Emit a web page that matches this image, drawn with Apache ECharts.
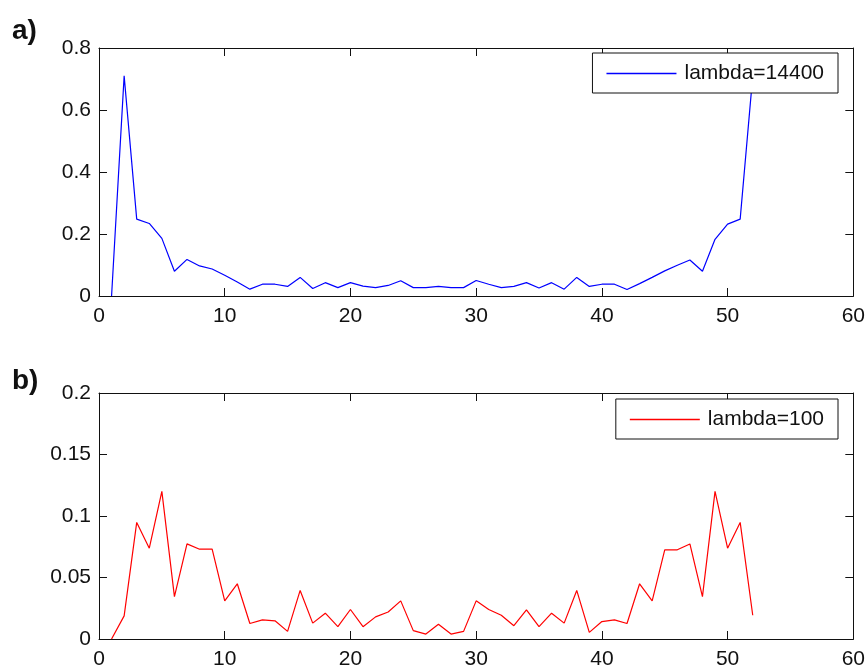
<!DOCTYPE html>
<html>
<head>
<meta charset="utf-8">
<title>lambda comparison</title>
<script src="https://cdn.jsdelivr.net/npm/echarts@6/dist/echarts.min.js"></script>
<style>
  html, body { margin: 0; padding: 0; background: #fff; }
  #chart { width: 868px; height: 670px; }
</style>
</head>
<body>
<div id="chart"></div>
<script>
// Sample index shared by both panels
const sampleIndex = [1, 2, 3, 4, 5, 6, 7, 8, 9, 10, 11, 12, 13, 14, 15, 16, 17, 18, 19, 20,
  21, 22, 23, 24, 25, 26, 27, 28, 29, 30, 31, 32, 33, 34, 35, 36, 37, 38, 39, 40,
  41, 42, 43, 44, 45, 46, 47, 48, 49, 50, 51, 52];

// Panel a): lambda = 14400
const lambda14400 = [0.0, 0.71, 0.248, 0.234, 0.186, 0.080, 0.118, 0.097, 0.087, 0.067,
  0.045, 0.022, 0.038, 0.038, 0.031, 0.060, 0.024, 0.043, 0.027, 0.043,
  0.032, 0.027, 0.034, 0.049, 0.027, 0.027, 0.031, 0.027, 0.027, 0.050,
  0.038, 0.027, 0.031, 0.043, 0.026, 0.043, 0.022, 0.060, 0.031, 0.038,
  0.038, 0.021, 0.040, 0.060, 0.081, 0.099, 0.116, 0.080, 0.183, 0.232,
  0.248, 0.71];

// Panel b): lambda = 100
const lambda100 = [0.0, 0.0188, 0.0948, 0.0738, 0.120, 0.0344, 0.0773, 0.073, 0.073, 0.031,
  0.0449, 0.0126, 0.0156, 0.0148, 0.0062, 0.0395, 0.0129, 0.021, 0.010, 0.024,
  0.010, 0.018, 0.022, 0.031, 0.0068, 0.004, 0.012, 0.004, 0.0062, 0.031,
  0.024, 0.0193, 0.0108, 0.0237, 0.010, 0.021, 0.0129, 0.0395, 0.0054, 0.0142,
  0.0156, 0.0126, 0.0449, 0.031, 0.0725, 0.0725, 0.0773, 0.0344, 0.120, 0.0738,
  0.0948, 0.0193];

// Axis ticks
const xTicks = { min: 0, max: 60, interval: 10 };
const yTicksA = { min: 0, max: 0.8, interval: 0.2 };
const yTicksB = { min: 0, max: 0.2, interval: 0.05 };

const seriesNames = ['lambda=14400', 'lambda=100'];
const panelLabels = ['a)', 'b)'];

const FONT = '"Liberation Sans", Arial, sans-serif';
const INK = '#111';

function pairs(xs, ys) {
  return xs.map((x, i) => [x, ys[i]]);
}

function xAxisFor(grid, pos, labels) {
  return {
    gridIndex: grid, type: 'value', position: pos,
    min: xTicks.min, max: xTicks.max, interval: xTicks.interval,
    axisLine: { show: true, onZero: false, lineStyle: { color: INK, width: 1 } },
    axisTick: { show: true, inside: true, length: 8, lineStyle: { color: INK } },
    axisLabel: { show: labels, fontSize: 21, fontFamily: FONT, color: INK, margin: 10 },
    splitLine: { show: false }
  };
}

function yAxisFor(grid, pos, ticks, labels) {
  return {
    gridIndex: grid, type: 'value', position: pos,
    min: ticks.min, max: ticks.max, interval: ticks.interval,
    axisLine: { show: true, onZero: false, lineStyle: { color: INK, width: 1 } },
    axisTick: { show: true, inside: true, length: 8, lineStyle: { color: INK } },
    axisLabel: { show: labels, fontSize: 21, fontFamily: FONT, color: INK, margin: 8 },
    splitLine: { show: false }
  };
}

// Boxed legend with a plain line sample (thin rect) instead of the line+marker icon
function legendFor(name, top) {
  return {
    data: [{ name: name, icon: 'rect' }],
    right: 30, top: top,
    orient: 'horizontal',
    backgroundColor: '#fff',
    borderColor: INK, borderWidth: 1,
    padding: [10, 14, 9, 14],
    itemWidth: 70, itemHeight: 1.5,
    textStyle: { fontSize: 21, fontFamily: FONT, color: INK, padding: [0, 0, 0, 3] },
    selectedMode: false
  };
}

const chart = echarts.init(document.getElementById('chart'), null, { renderer: 'canvas' });

chart.setOption({
  animation: false,
  backgroundColor: '#fff',
  title: [
    { text: panelLabels[0], left: 7, top: 12,
      textStyle: { fontSize: 28, fontWeight: 'bold', fontFamily: FONT, color: INK } },
    { text: panelLabels[1], left: 7, top: 362,
      textStyle: { fontSize: 28, fontWeight: 'bold', fontFamily: FONT, color: INK } }
  ],
  grid: [
    { left: 99, top: 48, width: 755, height: 248 },
    { left: 99, top: 393, width: 755, height: 249 }
  ],
  legend: [legendFor(seriesNames[0], 53), legendFor(seriesNames[1], 399)],
  xAxis: [
    xAxisFor(0, 'bottom', true), xAxisFor(0, 'top', false),
    xAxisFor(1, 'bottom', true), xAxisFor(1, 'top', false)
  ],
  yAxis: [
    yAxisFor(0, 'left', yTicksA, true), yAxisFor(0, 'right', yTicksA, false),
    yAxisFor(1, 'left', yTicksB, true), yAxisFor(1, 'right', yTicksB, false)
  ],
  series: [
    {
      name: seriesNames[0], type: 'line', xAxisIndex: 0, yAxisIndex: 0,
      data: pairs(sampleIndex, lambda14400),
      symbol: 'none', color: '#0000ff',
      lineStyle: { color: '#0000ff', width: 1.2 }
    },
    {
      name: seriesNames[1], type: 'line', xAxisIndex: 2, yAxisIndex: 2,
      data: pairs(sampleIndex, lambda100),
      symbol: 'none', color: '#ff0000',
      lineStyle: { color: '#ff0000', width: 1.2 }
    }
  ]
});
</script>
</body>
</html>
